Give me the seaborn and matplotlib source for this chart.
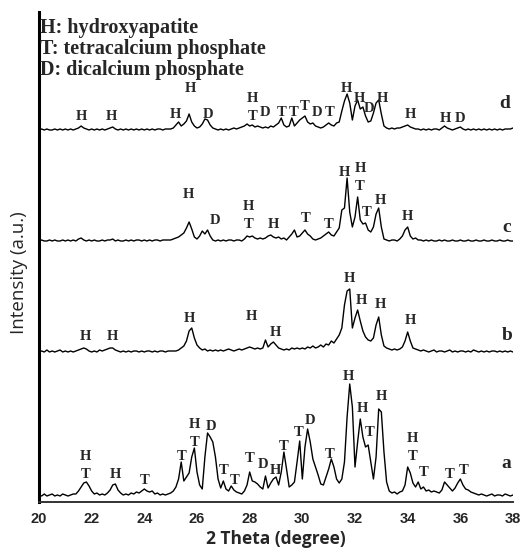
import numpy as np
import pandas as pd
import matplotlib
matplotlib.use("Agg")
import matplotlib.pyplot as plt
import seaborn as sns

# ------------------------------
# Data
# ------------------------------
theta = np.round(np.arange(20.0, 38.001, 0.1), 1)   # scan grid, 0.1 deg step

# intensity above each pattern's own baseline (a.u.)
int_a = [2, 1, 3, 1, 2, 3, 1, 2, 1, 3,
         2, 1, 2, 3, 3, 6, 10, 14, 15, 11,
         6, 3, 4, 2, 3, 2, 4, 7, 12, 13,
         7, 4, 2, 3, 2, 4, 3, 5, 4, 6,
         8, 6, 5, 6, 3, 4, 2, 3, 2, 3,
         4, 6, 10, 18, 35, 16, 20, 24, 40, 49,
         25, 12, 8, 40, 64, 60, 55, 40, 18, 9,
         16, 8, 6, 11, 7, 5, 4, 3, 6, 12,
         25, 16, 15, 13, 10, 8, 21, 9, 14, 18,
         20, 12, 25, 45, 28, 10, 12, 15, 35, 56,
         18, 50, 68, 55, 38, 30, 22, 13, 12, 20,
         28, 38, 30, 18, 14, 18, 35, 80, 113, 90,
         30, 55, 78, 60, 50, 52, 35, 18, 40, 88,
         85, 45, 15, 6, 4, 5, 3, 5, 6, 12,
         30, 24, 14, 10, 15, 8, 10, 6, 7, 5,
         6, 5, 4, 7, 15, 12, 9, 6, 9, 14,
         18, 12, 8, 7, 5, 4, 3, 2, 3, 2,
         1, 2, 3, 1, 2, 2, 1, 3, 2, 1,
         2]

int_b = [1, 2, 1, 3, 1, 2, 1, 2, 3, 1,
         2, 1, 2, 1, 2, 3, 4, 5, 4, 2,
         1, 2, 1, 3, 2, 3, 4, 5, 5, 3,
         2, 1, 2, 1, 2, 1, 2, 2, 1, 2,
         1, 2, 2, 1, 2, 1, 2, 2, 1, 2,
         2, 2, 2, 3, 5, 7, 12, 22, 25, 15,
         8, 5, 3, 4, 2, 3, 2, 3, 2, 3,
         2, 3, 4, 3, 2, 3, 4, 3, 4, 5,
         6, 5, 4, 5, 4, 5, 13, 6, 9, 11,
         8, 5, 4, 3, 4, 3, 5, 4, 5, 4,
         5, 4, 6, 5, 7, 5, 6, 8, 6, 9,
         8, 12, 10, 14, 18, 25, 48, 62, 64, 25,
         35, 43, 32, 22, 16, 13, 12, 15, 28, 36,
         18, 7, 5, 4, 3, 4, 3, 4, 6, 12,
         21, 12, 5, 4, 3, 2, 3, 2, 1, 2,
         3, 1, 2, 2, 1, 2, 3, 1, 2, 1,
         2, 2, 1, 2, 1, 3, 2, 1, 2, 1,
         2, 1, 2, 2, 1, 2, 1, 2, 1, 2,
         1]

int_c = [1, 2, 1, 1, 2, 1, 2, 1, 1, 2,
         1, 2, 1, 2, 1, 3, 4, 2, 1, 2,
         1, 2, 1, 1, 2, 1, 2, 2, 3, 1,
         2, 1, 1, 2, 1, 2, 1, 2, 2, 1,
         2, 1, 2, 1, 2, 2, 1, 2, 2, 2,
         2, 3, 4, 5, 7, 9, 14, 20, 13, 5,
         3, 6, 11, 8, 12, 6, 2, 1, 2, 1,
         2, 1, 2, 2, 1, 2, 2, 1, 3, 6,
         5, 6, 4, 3, 4, 3, 4, 6, 7, 5,
         4, 5, 3, 4, 2, 5, 8, 12, 5, 6,
         9, 12, 8, 6, 3, 2, 3, 4, 6, 8,
         10, 7, 6, 10, 14, 32, 34, 64, 30, 15,
         25, 45, 22, 18, 19, 12, 10, 15, 28, 34,
         15, 3, 2, 1, 2, 2, 1, 3, 6, 12,
         15, 6, 3, 4, 2, 2, 1, 2, 1, 2,
         1, 1, 2, 1, 2, 1, 1, 2, 1, 1,
         2, 1, 1, 2, 1, 1, 2, 1, 1, 2,
         1, 1, 2, 1, 1, 2, 1, 1, 2, 1,
         1]

int_d = [1, 2, 1, 2, 1, 1, 2, 1, 2, 1,
         2, 1, 2, 1, 2, 3, 5, 3, 2, 1,
         2, 1, 2, 1, 2, 1, 2, 3, 4, 2,
         1, 2, 1, 2, 1, 2, 1, 2, 1, 2,
         1, 2, 1, 2, 1, 2, 2, 1, 2, 2,
         2, 3, 6, 9, 5, 7, 10, 17, 9, 5,
         3, 4, 7, 12, 11, 6, 3, 2, 1, 2,
         1, 2, 1, 2, 3, 2, 3, 4, 5, 7,
         5, 6, 4, 5, 4, 3, 4, 3, 5, 4,
         6, 8, 13, 6, 4, 5, 13, 5, 8, 11,
         13, 15, 9, 7, 8, 5, 4, 3, 4, 6,
         8, 6, 5, 8, 9, 20, 30, 37, 28, 11,
         25, 31, 22, 24, 15, 9, 10, 18, 28, 31,
         17, 5, 3, 2, 3, 2, 3, 3, 4, 5,
         6, 4, 3, 2, 2, 1, 2, 1, 2, 1,
         2, 2, 1, 3, 5, 3, 2, 1, 2, 3,
         4, 2, 1, 2, 1, 2, 1, 2, 1, 2,
         1, 2, 1, 2, 1, 2, 1, 2, 2, 2,
         3]

samples = ["a", "b", "c", "d"]
offsets = [5, 149, 260, 371]

# phase labels (2theta, y, letter)
labels_a = [(21.78, 45, "H"), (21.78, 27, "T"), (22.89, 27, "H"), (24.03, 22, "T"),
            (25.42, 45, "T"), (25.92, 78, "H"), (25.92, 59, "T"), (26.52, 76, "D"),
            (27.03, 32, "T"), (27.44, 22, "T"), (28.01, 43, "T"), (28.52, 37, "D"),
            (28.96, 32, "H"), (29.30, 56, "T"), (29.87, 69, "T"), (30.29, 82, "D"),
            (31.05, 47, "T"), (31.75, 125, "H"), (32.29, 93, "H"), (32.55, 69, "T"),
            (33.01, 105, "H"), (34.18, 64, "H"), (34.18, 45, "T"), (34.60, 29, "T"),
            (35.61, 27, "T"), (36.11, 32, "T")]
labels_b = [(21.75, 165, "H"), (22.80, 165, "H"), (25.73, 184, "H"), (28.08, 185, "H"),
            (28.96, 170, "H"), (31.79, 224, "H"), (32.25, 202, "H"), (32.95, 197, "H"),
            (34.09, 182, "H")]
labels_c = [(25.67, 307, "H"), (26.68, 282, "D"), (27.95, 295, "H"), (27.95, 277, "T"),
            (28.90, 277, "H"), (30.14, 284, "T"), (30.99, 277, "T"), (31.60, 330, "H"),
            (32.20, 333, "H"), (32.17, 315, "T"), (32.45, 289, "T"), (32.95, 302, "H"),
            (33.99, 285, "H")]
labels_d = [(21.62, 385, "H"), (22.76, 385, "H"), (25.17, 387, "H"), (25.76, 414, "H"),
            (26.42, 387, "D"), (28.10, 404, "H"), (28.10, 385, "T"), (28.58, 390, "D"),
            (29.22, 390, "T"), (29.66, 390, "T"), (30.10, 395, "T"), (30.55, 389, "D"),
            (31.05, 389, "T"), (31.66, 413, "H"), (32.17, 403, "H"), (32.52, 394, "D"),
            (33.03, 403, "H"), (34.09, 387, "H"), (35.42, 384, "H"), (36.00, 384, "D")]
sample_tags = [(37.76, 39, "a"), (37.76, 167, "b"), (37.76, 275, "c"), (37.70, 399, "d")]

legend_lines = ["H: hydroxyapatite", "T: tetracalcium phosphate", "D: dicalcium phosphate"]
xticks = [20, 22, 24, 26, 28, 30, 32, 34, 36, 38]

# ------------------------------
# Build long table
# ------------------------------
frames = []
for name, vals, off in zip(samples, [int_a, int_b, int_c, int_d], offsets):
    frames.append(pd.DataFrame({"theta": theta, "I": np.array(vals) + off, "sample": name}))
df = pd.concat(frames, ignore_index=True)

# ------------------------------
# Plot
# ------------------------------
sns.set_style("white")
serif = ["Liberation Serif", "DejaVu Serif"]
narrow = ["Liberation Sans Narrow", "Liberation Sans", "DejaVu Sans"]
sans = ["Open Sans", "DejaVu Sans"]

fig = plt.figure(figsize=(5.29, 5.52), dpi=100)
ax = fig.add_axes([39 / 529, 50 / 552, 474 / 529, 490 / 552])

sns.lineplot(data=df, x="theta", y="I", units="sample", estimator=None,
             color="black", linewidth=1.0, ax=ax)

for lab in [labels_a, labels_b, labels_c, labels_d]:
    for x, y, t in lab:
        ax.text(x, y, t, ha="center", va="center", fontsize=10.5,
                fontweight="bold", family=serif)
for x, y, t in sample_tags:
    ax.text(x, y, t, ha="center", va="center", fontsize=14,
            fontweight="bold", family=serif)

for i, line in enumerate(legend_lines):
    ax.text(0.003, 0.967 - i * 0.043, line, transform=ax.transAxes, ha="left",
            va="center", fontsize=14.5, fontweight="bold", family=serif)

ax.set_xlim(20, 38)
ax.set_ylim(0, 490)
ax.set_xticks(xticks)
ax.set_xticklabels([str(t) for t in xticks], fontsize=10.5, fontweight="bold", family=narrow)
ax.set_yticks([])
ax.tick_params(axis="x", direction="out", length=3, width=1, pad=4)
ax.set_xlabel("2 Theta (degree)", fontsize=12.5, fontweight="bold", family=sans, labelpad=3)
ax.set_ylabel("Intensity (a.u.)", fontsize=13.5, family=sans)
ax.yaxis.set_label_coords(-0.024, 0.469)

for s in ["top", "right"]:
    ax.spines[s].set_visible(False)
ax.spines["left"].set_linewidth(2.2)
ax.spines["bottom"].set_linewidth(1.4)
ax.spines["left"].set_color("black")
ax.spines["bottom"].set_color("#333333")

fig.savefig("out.png", dpi=100)
